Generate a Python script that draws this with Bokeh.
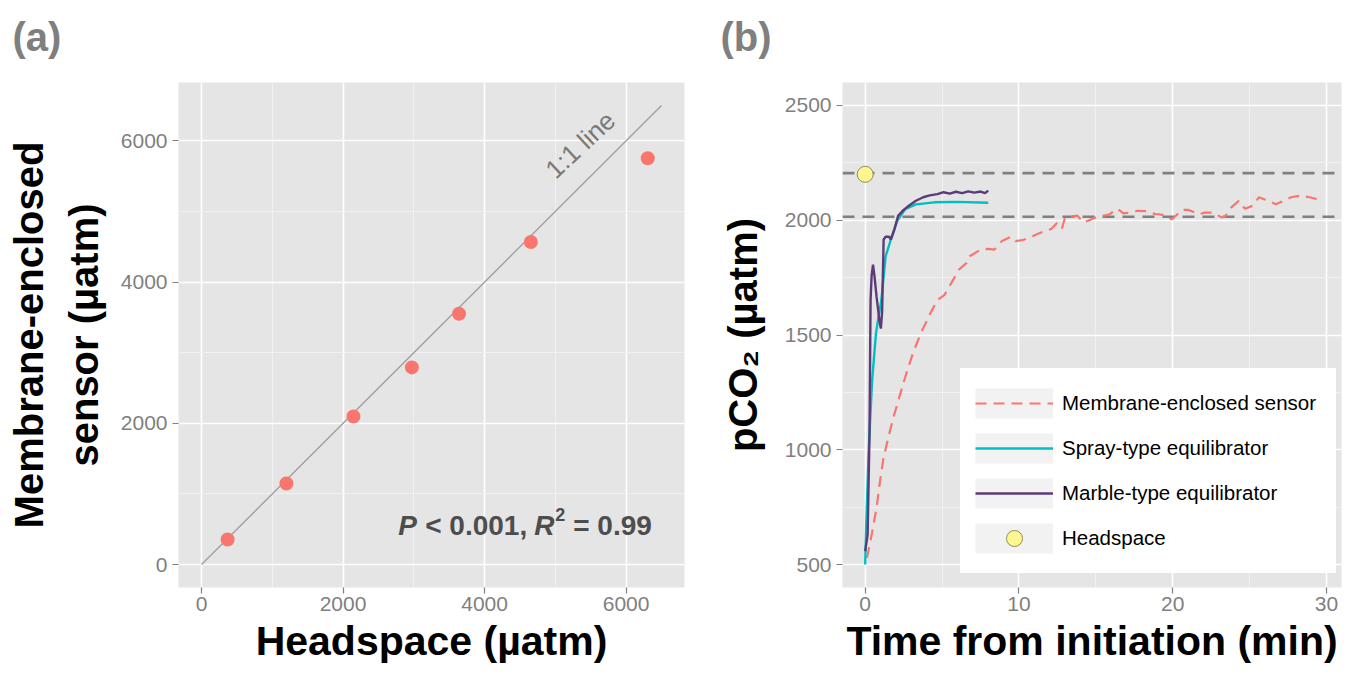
from math import pi
from bokeh.plotting import figure
from bokeh.models import Range1d, FixedTicker, Label, Legend, LegendItem, Span, Title
from bokeh.layouts import row
from bokeh.embed import file_html
from bokeh.resources import INLINE

# ---------------- data: panel (a) ----------------
headspace_uatm = [369, 1200, 2147, 2973, 3639, 4654, 6306]
membrane_uatm = [355, 1148, 2096, 2791, 3550, 4566, 5753]
one_to_one = [0, 6500]
a_ticks = [0, 2000, 4000, 6000]
a_minor = [1000, 3000, 5000]

# ---------------- data: panel (b) ----------------
mem_t = [0.12, 0.45, 0.74, 1.0, 1.2, 1.56, 1.9, 2.6, 3.1, 3.65,
         4.0, 4.23, 4.7, 5.16, 5.6, 6.1, 6.6, 6.8, 7.5, 8.0,
         8.4, 8.9, 9.5, 9.8, 10.3, 10.7, 11.2, 11.7, 12.1, 12.5,
         12.8, 13.0, 13.8, 14.2, 14.5, 14.9, 15.9, 16.4, 16.8, 17.4,
         17.7, 18.2, 18.9, 19.1, 19.6, 19.9, 20.05, 20.6, 21.0, 21.2,
         21.7, 22.1, 22.6, 23.2, 23.4, 23.8, 24.3, 24.7, 25.2, 25.6,
         26.2, 26.7, 27.0, 27.7, 28.3, 28.9, 29.5]
mem_co2 = [529, 640, 748, 880, 967, 1069, 1156, 1316, 1420, 1513,
           1560, 1594, 1652, 1675, 1726, 1785, 1814, 1843, 1872, 1875,
           1872, 1910, 1928, 1909, 1915, 1924, 1940, 1953, 1962, 1990,
           1965, 2012, 2020, 1990, 1998, 2010, 2026, 2050, 2030, 2035,
           2041, 2040, 2026, 2026, 2020, 2004, 2010, 2045, 2045, 2040,
           2026, 2033, 2033, 2012, 2016, 2055, 2085, 2050, 2063, 2100,
           2085, 2070, 2078, 2100, 2107, 2100, 2090]

spray_t = [0.0, 0.08, 0.23, 0.45, 0.7, 0.87, 1.05, 1.33, 1.67, 2.1, 2.6, 3.3, 4.5, 6.0, 8.0]
spray_co2 = [500, 700, 1000, 1300, 1506, 1580, 1652, 1843, 1916, 2000, 2048, 2069, 2078, 2080, 2076]

marble_t = [0.0, 0.16, 0.28, 0.35, 0.42, 0.51, 0.6, 0.74, 0.93, 1.02, 1.1, 1.2, 1.33, 1.56,
            1.67, 1.9, 2.14, 2.5, 2.84, 3.3, 3.77, 4.2, 4.7, 5.1, 5.5, 5.9, 6.3, 6.7, 7.1,
            7.5, 7.8, 8.0]
marble_co2 = [558, 631, 1069, 1652, 1760, 1806, 1760, 1667, 1560, 1528, 1600, 1916, 1928, 1928,
              1916, 1960, 2019, 2045, 2063, 2085, 2100, 2108, 2114, 2122, 2116, 2124, 2118, 2126,
              2120, 2125, 2118, 2129]

headspace_t = [0]
headspace_co2 = [2200]
ref_levels = [2205, 2015]

b_xticks = [0, 10, 20, 30]
b_xminor = [5, 15, 25]
b_yticks = [500, 1000, 1500, 2000, 2500]
b_yminor = [750, 1250, 1750, 2250]

# ---------------- style ----------------
FONT = "Liberation Sans"
PANEL_BG = "#E5E5E5"
GREY_TXT = "#7F7F7F"
C_MEM = "#F8766D"
C_SPRAY = "#00BFC4"
C_MARBLE = "#5C3B78"


def style(p, xt, xminor, yt, yminor, ylab_standoff):
    p.background_fill_color = PANEL_BG
    p.border_fill_color = "white"
    p.outline_line_color = None
    p.xaxis.ticker = FixedTicker(ticks=xt, minor_ticks=xminor)
    p.yaxis.ticker = FixedTicker(ticks=yt, minor_ticks=yminor)
    p.grid.grid_line_color = "white"
    p.grid.grid_line_width = 1.6
    p.grid.minor_grid_line_color = "#F2F2F2"
    p.grid.minor_grid_line_width = 0.9
    for ax in p.axis:
        ax.axis_line_color = None
        ax.major_tick_line_color = GREY_TXT
        ax.major_tick_line_width = 1.2
        ax.major_tick_out = 6
        ax.major_tick_in = 0
        ax.minor_tick_line_color = None
        ax.major_label_text_color = GREY_TXT
        ax.major_label_text_font = FONT
        ax.major_label_text_font_size = "21px"
        ax.axis_label_text_font = FONT
        ax.axis_label_text_font_style = "bold"
        ax.axis_label_text_color = "black"
    p.xaxis.major_label_standoff = 3
    p.yaxis.major_label_standoff = 5
    p.xaxis.axis_label_text_font_size = "41px"
    p.xaxis.axis_label_standoff = 4
    p.yaxis.axis_label_text_font_size = "40px"
    p.yaxis.axis_label_standoff = ylab_standoff
    p.yaxis.axis_label_text_line_height = 1.25


def add_tag(p, text, offset):
    # thin spacer panel next to the frame, then the panel tag above it
    p.add_layout(Title(text=" ", text_font=FONT, text_font_size="20px", standoff=0), "above")
    p.add_layout(Title(text=text, align="left", offset=offset, standoff=0,
                       text_font=FONT, text_font_size="40px", text_font_style="bold",
                       text_color=GREY_TXT), "above")


def add_text(p, text, x, y, size, fstyle="bold", color="black", angle=0.0,
             align="left", baseline="alphabetic", x_off=0, y_off=0):
    p.add_layout(Label(x=x, y=y, text=text, text_font=FONT, text_font_size=f"{size}px",
                       text_font_style=fstyle, text_color=color, angle=angle,
                       text_align=align, text_baseline=baseline,
                       x_offset=x_off, y_offset=y_off))


W, H = 1346, 673

# ---------------- panel (a) ----------------
p1 = figure(width=704, height=H, output_backend="svg", toolbar_location=None,
            x_range=Range1d(-325, 6825), y_range=Range1d(-325, 6825),
            min_border_left=178, min_border_right=20, min_border_top=80, min_border_bottom=86,
            title=None)
style(p1, a_ticks, a_minor, a_ticks, a_minor, 12)
p1.xaxis.axis_label = "Headspace (µatm)"
p1.yaxis.axis_label = "Membrane-enclosed\nsensor (µatm)"
add_tag(p1, "(a)", -166)

p1.line(one_to_one, one_to_one, line_color="#A0A0A0", line_width=1.4)
p1.scatter(headspace_uatm, membrane_uatm, size=14, fill_color=C_MEM, line_color=None)

# "1:1 line" annotation
add_text(p1, "1:1 line", 5352, 5943, 26, fstyle="normal", color="#7A7A7A",
         angle=43 * pi / 180, align="center", baseline="middle")

# statistics annotation: P < 0.001, R² = 0.99
STAT_X, STAT_Y = 2780, 555
stat_col = "#4D4D4D"
add_text(p1, "P", STAT_X, STAT_Y, 28, fstyle="bold italic", color=stat_col)
add_text(p1, "< 0.001,", STAT_X, STAT_Y, 28, color=stat_col, x_off=27)
add_text(p1, "R", STAT_X, STAT_Y, 28, fstyle="bold italic", color=stat_col, x_off=136)
add_text(p1, "2", STAT_X, STAT_Y, 18, color=stat_col, x_off=157, y_off=11)
add_text(p1, "= 0.99", STAT_X, STAT_Y, 28, color=stat_col, x_off=175)

# ---------------- panel (b) ----------------
p2 = figure(width=W - 704, height=H, output_backend="svg", toolbar_location=None,
            x_range=Range1d(-1.475, 30.975), y_range=Range1d(400, 2600),
            min_border_left=138, min_border_right=5, min_border_top=82, min_border_bottom=86,
            title=None)
style(p2, b_xticks, b_xminor, b_yticks, b_yminor, 17)
p2.xaxis.axis_label = "Time from initiation (min)"
p2.yaxis.axis_label = "pCO₂ (µatm)"
add_tag(p2, "(b)", -122)

for lvl in ref_levels:
    p2.add_layout(Span(location=lvl, dimension="width", line_color="#808080",
                       line_width=2.6, line_dash="12 8", level="underlay"))

key_bg = p2.line(mem_t, mem_co2, line_width=30, line_color="#F2F2F2", line_cap="butt",
                 visible=False)
r_mem = p2.line(mem_t, mem_co2, line_color=C_MEM, line_width=2.2, line_dash="11 7")
r_spray = p2.line(spray_t, spray_co2, line_color=C_SPRAY, line_width=2.4)
r_marble = p2.line(marble_t, marble_co2, line_color=C_MARBLE, line_width=2.4)
r_head = p2.scatter(headspace_t, headspace_co2, size=16, fill_color="#FFF68F",
                    line_color="#8F8C5A", line_width=1)

legend = Legend(items=[
    LegendItem(label="Membrane-enclosed sensor", renderers=[key_bg, r_mem]),
    LegendItem(label="Spray-type equilibrator", renderers=[key_bg, r_spray]),
    LegendItem(label="Marble-type equilibrator", renderers=[key_bg, r_marble]),
    LegendItem(label="Headspace", renderers=[key_bg, r_head]),
], location=(118, 14), glyph_width=78, glyph_height=40, spacing=5, padding=14,
    label_standoff=9, label_width=259, label_text_font=FONT,
    label_text_font_size="20.5px", label_text_color="black",
    background_fill_color="white", background_fill_alpha=1.0,
    border_line_color="white", border_line_width=1, margin=0)
p2.add_layout(legend)

layout = row(p1, p2)
open("out.html", "w").write(file_html(layout, INLINE))
